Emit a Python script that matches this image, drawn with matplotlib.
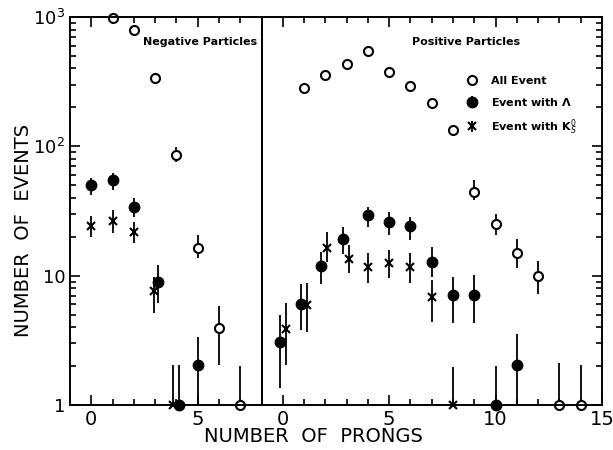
import numpy as np
import matplotlib.pyplot as plt
from matplotlib.ticker import FixedLocator, MultipleLocator, NullFormatter, LogLocator

# negative particles
neg_all_x = [1, 2, 3, 4, 5, 6, 7]
neg_all_y = [990, 790, 340, 86, 16.3, 3.95, 1.0]
neg_all_lo = [990, 790, 340, 75, 13.7, 2.04, 1.0]
neg_all_hi = [990, 790, 340, 99, 20.6, 5.8, 2.0]

neg_lam_x = [0, 1, 2, 3.15, 4.1, 5]
neg_lam_y = [50, 55, 34, 8.9, 1.0, 2.04]
neg_lam_lo = [42, 46, 28.4, 6.1, 1.0, 1.0]
neg_lam_hi = [57, 62, 39.9, 12.1, 2.04, 3.37]

neg_k0_x = [0, 1, 2, 2.95, 3.85]
neg_k0_y = [24.2, 26.5, 21.7, 7.6, 1.0]
neg_k0_lo = [20, 21.3, 17.8, 5.1, 1.0]
neg_k0_hi = [29, 32.2, 26.2, 9.8, 2.04]

# positive particles
pos_all_x = [1, 2, 3, 4, 5, 6, 7, 8, 9, 10, 11, 12, 13, 14]
pos_all_y = [281, 357, 431, 547, 378, 292, 217, 134, 44.2, 25.1, 15.1, 10, 1.0, 1.0]
pos_all_lo = [262, 335, 405, 515, 355, 273, 202, 124, 38.5, 20.6, 11.5, 7.2, 1.0, 1.0]
pos_all_hi = [300, 380, 458, 580, 402, 311, 232, 144, 55, 29.9, 19.2, 13, 2.1, 2.04]

pos_lam_x = [-0.15, 0.85, 1.8, 2.85, 4, 5, 6, 7, 8, 9, 10, 11]
pos_lam_y = [3.05, 6.0, 11.9, 19.1, 29.5, 26.2, 24.2, 12.8, 7.1, 7.1, 1.0, 2.04]
pos_lam_lo = [1.35, 3.8, 8.6, 14.7, 23.9, 20.6, 18.9, 9.8, 4.33, 4.3, 1.0, 1.0]
pos_lam_hi = [4.97, 8.6, 15.3, 23.9, 34.2, 31.3, 28.6, 16.8, 9.8, 10.1, 2.0, 3.52]

pos_k0_x = [0.15, 1.15, 2.1, 3.1, 4, 5, 6, 7, 8]
pos_k0_y = [3.87, 5.93, 16.5, 13.5, 11.6, 12.6, 11.7, 6.9, 1.0]
pos_k0_lo = [2.04, 3.69, 12.8, 10.5, 8.7, 9.55, 8.8, 4.4, 1.0]
pos_k0_hi = [6.1, 8.7, 21.9, 17.3, 15.1, 15.8, 15.1, 9.3, 1.98]


def draw(ax, x, y, lo, hi, kind, label=None):
    y = np.array(y)
    err = [y - np.array(lo), np.array(hi) - y]
    if kind == 'all':
        st = dict(fmt='o', mfc='white', mec='black', ms=6.5, mew=1.5)
    elif kind == 'lam':
        st = dict(fmt='o', mfc='black', mec='black', ms=7.5)
    else:
        st = dict(fmt='x', mec='black', ms=6, mew=1.5)
    c = ax.errorbar(x, y, yerr=err, color='black', elinewidth=1.3,
                    capsize=0, label=label, **st)
    for part in c.lines[0:1] + tuple(c.lines[2]):
        part.set_clip_on(False)
    return c


fig = plt.figure(figsize=(6.13, 4.5), dpi=100)
ax1 = fig.add_axes([0.1142, 0.1, 0.3124, 0.8622])
ax2 = fig.add_axes([0.4266, 0.1, 0.5555, 0.8622])

draw(ax1, neg_all_x, neg_all_y, neg_all_lo, neg_all_hi, 'all')
draw(ax1, neg_lam_x, neg_lam_y, neg_lam_lo, neg_lam_hi, 'lam')
draw(ax1, neg_k0_x, neg_k0_y, neg_k0_lo, neg_k0_hi, 'k0')

h1 = draw(ax2, pos_all_x, pos_all_y, pos_all_lo, pos_all_hi, 'all', 'All Event')
h2 = draw(ax2, pos_lam_x, pos_lam_y, pos_lam_lo, pos_lam_hi, 'lam', r'Event with $\mathbf{\Lambda}$')
h3 = draw(ax2, pos_k0_x, pos_k0_y, pos_k0_lo, pos_k0_hi, 'k0', r'Event with $\mathbf{K}_S^0$')

ax1.set_xlim(-1, 8)
ax2.set_xlim(-1, 15)
for ax in (ax1, ax2):
    ax.set_yscale('log')
    ax.set_ylim(1, 1000)
    ax.xaxis.set_minor_locator(MultipleLocator(1))
    ax.yaxis.set_major_locator(FixedLocator([1, 10, 100, 1000]))
    ax.yaxis.set_minor_locator(LogLocator(base=10, subs=np.arange(2, 10)))
    ax.yaxis.set_minor_formatter(NullFormatter())
    ax.tick_params(which='both', direction='in', top=True, labelsize=14, width=1.2)
    ax.tick_params(which='major', length=7)
    ax.tick_params(which='minor', length=4.5)
    for s in ax.spines.values():
        s.set_linewidth(1.4)

ax1.set_xticks([0, 5])
ax2.set_xticks([0, 5, 10, 15])
ax1.tick_params(axis='y', left=True, right=False, labelsize=13)
ax1.set_yticklabels(['1', '10', '$10^2$', '$10^3$'])
ax2.tick_params(axis='y', which='both', left=False, right=True, labelleft=False)

ax1.text(0.977, 0.936, 'Negative Particles', transform=ax1.transAxes,
         ha='right', va='center', fontsize=8, fontweight='bold')
ax2.text(0.441, 0.936, 'Positive Particles', transform=ax2.transAxes,
         ha='left', va='center', fontsize=8, fontweight='bold')

ax2.legend(handles=[h1, h2, h3], loc='upper left', bbox_to_anchor=(0.582, 0.862),
           frameon=False, prop=dict(size=8, weight='bold'), handlelength=1.2,
           handletextpad=1.1, labelspacing=0.85, borderpad=0)

fig.text(0.512, 0.029, 'NUMBER  OF  PRONGS', ha='center', va='center', fontsize=14)
fig.text(0.039, 0.487, 'NUMBER  OF  EVENTS', ha='center', va='center',
         rotation=90, fontsize=14)

fig.savefig('out.png', dpi=100)
